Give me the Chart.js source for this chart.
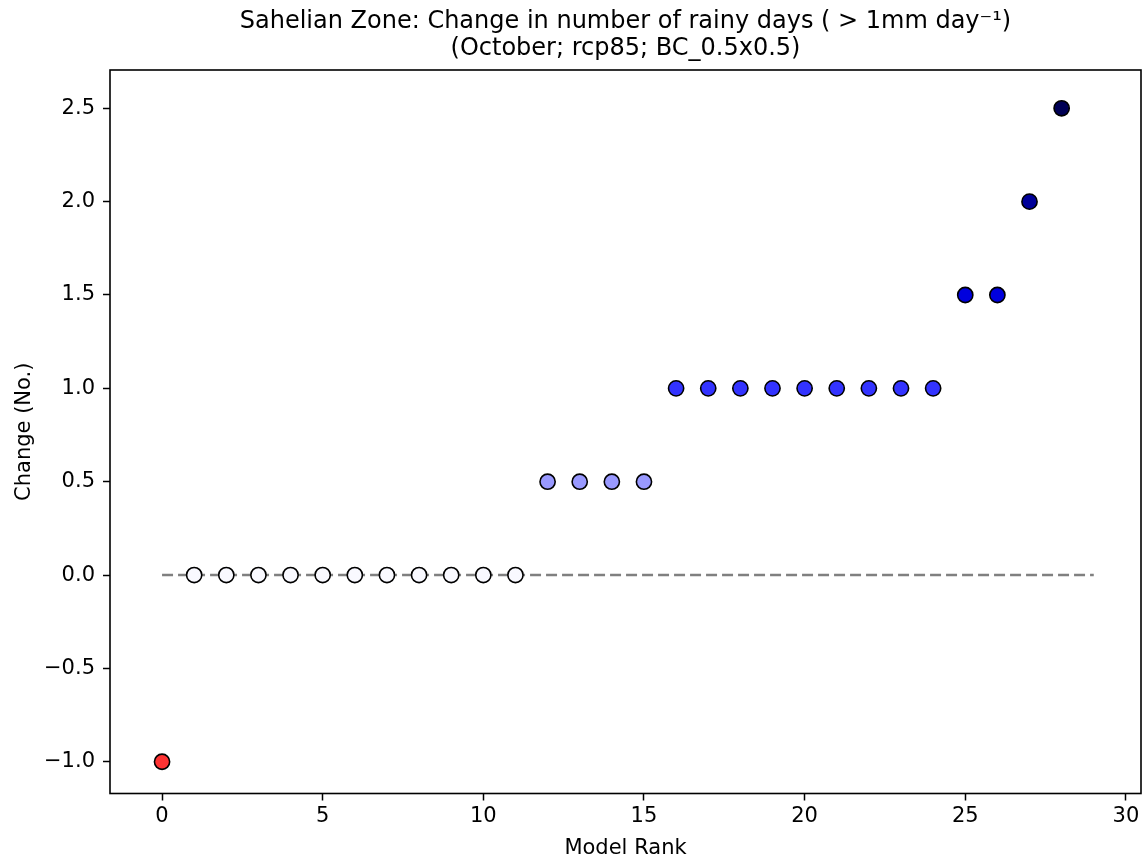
<!DOCTYPE html>
<html>
<head>
<meta charset="utf-8">
<title>Sahelian Zone: Change in number of rainy days</title>
<script src="https://cdn.jsdelivr.net/npm/chart.js@4/dist/chart.umd.min.js"></script>
<style>
  html, body { margin: 0; padding: 0; background: #ffffff; }
  #wrap { width: 1143px; height: 861px; }
</style>
</head>
<body>
<div id="wrap"><canvas id="c" width="1143" height="861"></canvas></div>
<script>
// Model rank (x) and change in number of rainy days (y), one entry per model
const modelRank = [0, 1, 2, 3, 4, 5, 6, 7, 8, 9, 10, 11, 12, 13, 14, 15, 16, 17, 18, 19, 20, 21, 22, 23, 24, 25, 26, 27, 28];
const changeDays = [-1.0, 0, 0, 0, 0, 0, 0, 0, 0, 0, 0, 0, 0.5, 0.5, 0.5, 0.5, 1.0, 1.0, 1.0, 1.0, 1.0, 1.0, 1.0, 1.0, 1.0, 1.5, 1.5, 2.0, 2.5];

// Zero reference line, spanning the ranks
const zeroLineX = [0, 29];
const zeroLineY = [0, 0];

// Axis ticks
const xTicks = [0, 5, 10, 15, 20, 25, 30];
const yTicks = [-1.0, -0.5, 0.0, 0.5, 1.0, 1.5, 2.0, 2.5];

const titleLines = ['Sahelian Zone: Change in number of rainy days ( > 1mm day\u207B\u00B9)', '(October; rcp85; BC_0.5x0.5)'];
const xLabel = 'Model Rank';
const yLabel = 'Change (No.)';

// Diverging colour lookup: red for decreases, white at zero, deepening blue for increases
function changeColour(v) {
  if (v < 0) return '#ff3333';
  if (v === 0) return '#f9f9ff';
  if (v <= 0.5) return '#9999ff';
  if (v <= 1.0) return '#3333ff';
  if (v <= 1.5) return '#0000dd';
  if (v <= 2.0) return '#000099';
  return '#000055';
}

const points = modelRank.map((x, i) => ({ x: x, y: changeDays[i] }));
const zeroLine = zeroLineX.map((x, i) => ({ x: x, y: zeroLineY[i] }));

const FONT = 'DejaVu Sans';

// Closed frame around the plotting area
const frame = {
  id: 'frame',
  beforeDatasetsDraw(chart) {
    const a = chart.chartArea, ctx = chart.ctx;
    ctx.save();
    ctx.strokeStyle = '#000000';
    ctx.lineWidth = 1.6;
    ctx.strokeRect(a.left, a.top, a.right - a.left, a.bottom - a.top);
    ctx.restore();
  }
};

function tickGrid() {
  return {
    display: true,
    drawOnChartArea: false,
    drawTicks: true,
    tickLength: 7,
    tickWidth: 1.5,
    tickColor: '#000000'
  };
}

new Chart(document.getElementById('c'), {
  type: 'scatter',
  data: {
    datasets: [
      {
        label: 'models',
        data: points,
        order: 1,
        pointRadius: 7.6,
        pointHoverRadius: 7.6,
        borderWidth: 1.6,
        borderColor: '#000000',
        backgroundColor: changeDays.map(changeColour),
        pointBackgroundColor: changeDays.map(changeColour)
      },
      {
        label: 'zero',
        type: 'line',
        data: zeroLine,
        order: 2,
        showLine: true,
        pointRadius: 0,
        borderColor: '#808080',
        borderWidth: 2.6,
        borderDash: [11, 5],
        fill: false
      }
    ]
  },
  options: {
    responsive: false,
    animation: false,
    devicePixelRatio: 1,
    layout: { autoPadding: false, padding: { left: 0, right: 2, top: 0, bottom: 0 } },
    plugins: {
      legend: { display: false },
      tooltip: { enabled: false },
      title: {
        display: true,
        fullSize: false,
        text: titleLines,
        color: '#000000',
        font: { family: FONT, size: 24, weight: 'normal', lineHeight: 1.125 },
        padding: { top: 8, bottom: 8 }
      }
    },
    scales: {
      x: {
        type: 'linear',
        min: -1.62,
        max: 30.47,
        afterFit(scale) {
          scale.height = 67.5;
          scale.paddingLeft = 0;
          scale.paddingRight = 0;
        },
        afterBuildTicks(scale) { scale.ticks = xTicks.map(v => ({ value: v })); },
        ticks: {
          color: '#000000',
          font: { family: FONT, size: 21 },
          padding: 3,
          maxRotation: 0,
          callback: v => String(v)
        },
        grid: tickGrid(),
        border: { display: false },
        title: {
          display: true,
          text: xLabel,
          color: '#000000',
          font: { family: FONT, size: 21 },
          padding: { top: 0, bottom: 0 }
        }
      },
      y: {
        type: 'linear',
        min: -1.17,
        max: 2.705,
        afterFit(scale) {
          scale.width = 110;
          scale.paddingTop = 0;
          scale.paddingBottom = 0;
        },
        afterBuildTicks(scale) { scale.ticks = yTicks.map(v => ({ value: v })); },
        ticks: {
          color: '#000000',
          font: { family: FONT, size: 21 },
          padding: 8,
          callback: v => Number(v).toFixed(1).replace('-', '\u2212')
        },
        grid: tickGrid(),
        border: { display: false },
        title: {
          display: true,
          text: yLabel,
          color: '#000000',
          font: { family: FONT, size: 21 },
          padding: { top: 12, bottom: 0 }
        }
      }
    }
  },
  plugins: [frame]
});
</script>
</body>
</html>
